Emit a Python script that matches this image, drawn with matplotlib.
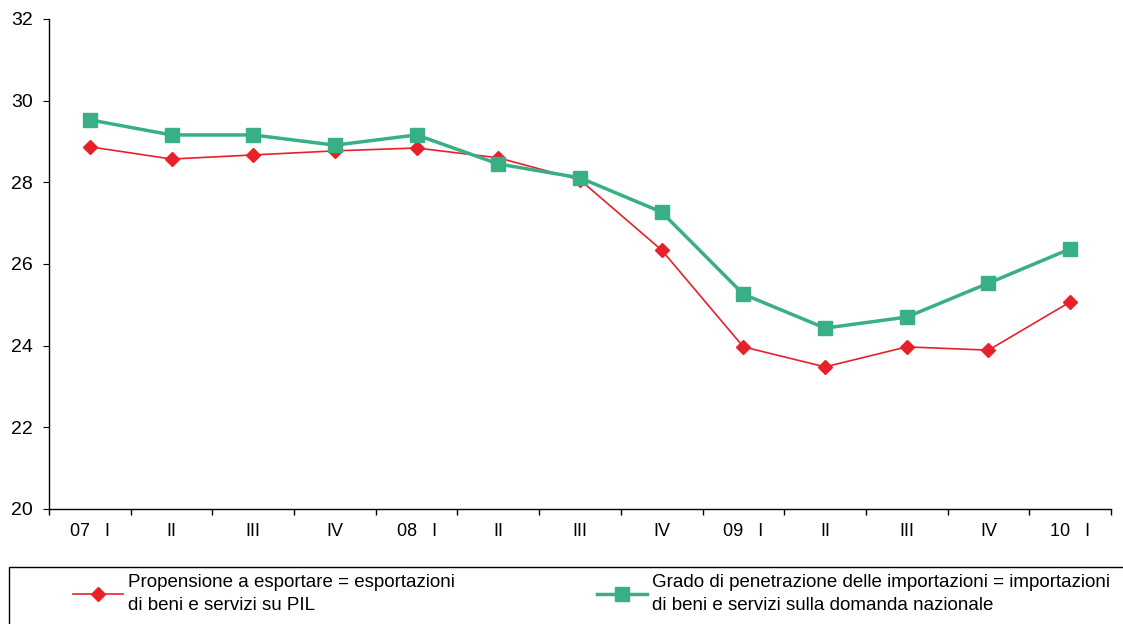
import numpy as np
import matplotlib.pyplot as plt
from matplotlib.patches import Rectangle

plt.rcParams['font.family'] = ['Liberation Sans', 'DejaVu Sans']

# quarters 2007 Q1 - 2010 Q1
tick_labels = ['07   I', 'II', 'III', 'IV', '08   I', 'II', 'III', 'IV',
               '09   I', 'II', 'III', 'IV', '10   I']
export_share = [28.87, 28.57, 28.67, 28.77, 28.84, 28.60, 28.06, 26.34,
                23.97, 23.48, 23.97, 23.89, 25.07]
import_share = [29.53, 29.16, 29.16, 28.91, 29.16, 28.45, 28.11, 27.27,
                25.26, 24.43, 24.70, 25.53, 26.37]

label_exp = 'Propensione a esportare = esportazioni\ndi beni e servizi su PIL'
label_imp = 'Grado di penetrazione delle importazioni = importazioni\ndi beni e servizi sulla domanda nazionale'

red = '#E8202A'
green = '#38AF85'

fig = plt.figure(figsize=(11.23, 6.24), dpi=100)
ax = fig.add_axes([0.0436, 0.1843, 0.9457, 0.7853])

x = np.arange(len(tick_labels))
l1, = ax.plot(x, export_share, color=red, lw=1.2, marker='D', ms=7,
              mec=red, mfc=red)
l2, = ax.plot(x, import_share, color=green, lw=2.5, marker='s', ms=10,
              mec=green, mfc=green)

ax.set_xlim(-0.5, len(x) - 0.5)
ax.set_ylim(20, 32)
ax.set_yticks([20, 22, 24, 26, 28, 30, 32])

# ticks on category boundaries, labels centred
ax.set_xticks(np.arange(len(x) + 1) - 0.5)
ax.set_xticklabels([])
ax.set_xticks(x, minor=True)
ax.set_xticklabels(tick_labels, minor=True)
ax.tick_params(axis='x', which='minor', length=0, pad=10, labelsize=13)
ax.tick_params(axis='x', which='major', direction='out', length=4, width=1)
ax.tick_params(axis='y', direction='out', length=4.5, labelsize=14, pad=7)

for s in ['top', 'right']:
    ax.spines[s].set_visible(False)
ax.spines['left'].set_linewidth(1)
ax.spines['bottom'].set_linewidth(1)

# legend box, open at the right/bottom edge
fig.patches.append(Rectangle((9 / 1123, -0.05), 1.1, (624 - 567) / 624 + 0.05,
                             transform=fig.transFigure, fill=False,
                             ec='black', lw=1))
leg_kw = dict(loc='upper left', frameon=False, fontsize=13.5, handlelength=2.65,
              handletextpad=0.3, borderaxespad=0, borderpad=0)
leg1 = fig.legend([l1], [label_exp], bbox_to_anchor=(73 / 1123, 1 - 574 / 624), **leg_kw)
leg2 = fig.legend([l2], [label_imp], bbox_to_anchor=(597 / 1123, 1 - 574 / 624), **leg_kw)
for leg in (leg1, leg2):
    for t in leg.get_texts():
        t.set_linespacing(1.45)

fig.savefig('out.png', dpi=100)
